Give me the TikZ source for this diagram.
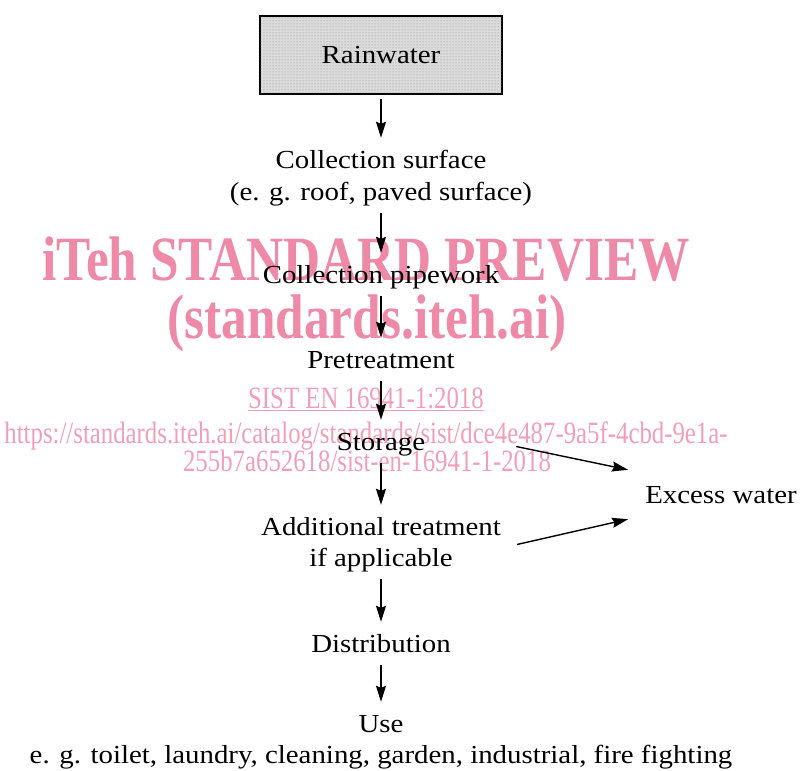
\documentclass[tikz,border=0pt]{standalone}
\usepackage{fontspec}
\setmainfont{Liberation Serif}[FakeStretch=1.11]
\newfontfamily\wmfont{Liberation Serif}[FakeStretch=0.8]
\newfontfamily\wmfontb{Liberation Serif}[FakeStretch=0.815]
\usetikzlibrary{arrows.meta,patterns}
\definecolor{wmpink}{RGB}{238,138,168}
\definecolor{wmlight}{RGB}{243,158,184}
\tikzset{
  txt/.style={anchor=base, font=\fontsize{26}{31}\selectfont, text height=20pt, text depth=3pt, inner ysep=10pt, inner xsep=3pt},
  rainbox/.style={draw, line width=2pt, fill=gray!28, postaction={pattern=dots, pattern color=gray!90}, minimum width=242pt, minimum height=78pt, font=\fontsize{26}{31}\selectfont},
  flow/.style={-{Stealth[length=16pt,width=10pt,inset=2pt]}, line width=1.4pt},
  wmbig/.style={anchor=base, text=wmpink, font=\wmfontb\bfseries\fontsize{63}{70}\selectfont, inner sep=0pt},
  wmsmall/.style={anchor=base, text=wmlight, font=\wmfont\fontsize{31}{36}\selectfont, inner sep=0pt}
}
\begin{document}
\begin{tikzpicture}[x=1pt,y=-1pt]
\useasboundingbox (0,0) rectangle (801,771);
% watermark
\node[wmbig] (wm1) at (366,280) {iTeh STANDARD PREVIEW};
\node[wmbig] (wm2) at (367,338) {(standards.iteh.ai)};
\node[wmsmall] (wm3) at (366,408) {\underline{SIST EN 16941-1:2018}};
\node[wmsmall] (wm4) at (366,443) {https://standards.iteh.ai/catalog/standards/sist/dce4e487-9a5f-4cbd-9e1a-};
\node[wmsmall] (wm5) at (367,471) {255b7a652618/sist-en-16941-1-2018};
% flow
\node[rainbox] (rain) at (381,55) {Rainwater};
\node[txt] (surf1) at (381,168) {Collection surface};
\node[txt] (surf2) at (381,200) {(e. g. roof, paved surface)};
\node[txt] (pipe) at (381,283) {Collection pipework};
\node[txt] (pre) at (381,368) {Pretreatment};
\node[txt] (stor) at (381,450) {Storage};
\node[txt] (add1) at (381,535) {Additional treatment};
\node[txt] (add2) at (381,566) {if applicable};
\node[txt] (dist) at (381,652) {Distribution};
\node[txt] (use1) at (381,732) {Use};
\node[txt] (use2) at (381,763) {e. g. toilet, laundry, cleaning, garden, industrial, fire fighting};
\node[txt, inner xsep=17pt, inner ysep=13pt] (exc) at (721,503) {Excess water};
\draw[flow, shorten <=4pt] (rain.south) -- (surf1.north);
\draw[flow] (surf2.south) -- (pipe.north);
\draw[flow] (pipe.south) -- (pre.north);
\draw[flow] (pre.south) -- (stor.north);
\draw[flow] (stor.south) -- (add1.north);
\draw[flow] (add2.south) -- (dist.north);
\draw[flow] (dist.south) -- (use1.north);
\draw[flow] ([shift={(88,5)}]stor.east) -- (exc.north west);
\draw[flow] ([shift={(13,18)}]add1.east) -- (exc.south west);
\end{tikzpicture}
\end{document}
